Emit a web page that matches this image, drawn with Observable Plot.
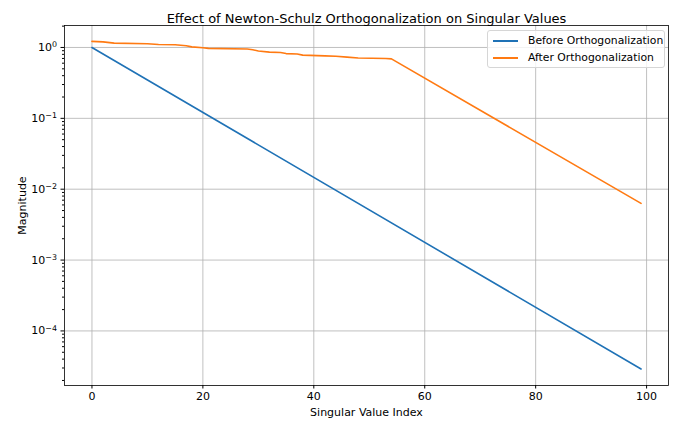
<!DOCTYPE html>
<html>
<head>
<meta charset="utf-8">
<script src="https://cdn.jsdelivr.net/npm/d3@7"></script>
<script src="https://cdn.jsdelivr.net/npm/@observablehq/plot@0.6"></script>
<style>
  html, body { margin: 0; padding: 0; background: white; }
  #wrap { position: relative; width: 700px; height: 430px; font-family: "DejaVu Sans", sans-serif; }
  #legend { position: absolute; left: 487px; top: 30px; width: 178px; height: 38px;
    border: 1px solid #d6d6d6; border-radius: 3px; background: rgba(255,255,255,0.8);
    font-size: 10.8px; color: #000; box-sizing: border-box; }
  .row { position: absolute; left: 5px; display: flex; align-items: center; height: 15px; }
  .sw { width: 25px; height: 2px; margin-right: 10px; }
</style>
</head>
<body>
<div id="wrap"></div>
<script>
const title = "Effect of Newton-Schulz Orthogonalization on Singular Values";
const xLabel = "Singular Value Index";
const yLabel = "Magnitude";
const seriesNames = ["Before Orthogonalization", "After Orthogonalization"];
const seriesColors = ["#1f72b6", "#ff7a12"];

// Before: straight line on log scale from index 0 to 99
const beforeIndex = [0, 99];
const beforeValue = [1.0, 2.9e-5];

// After: slowly stepping plateau, then straight decay on log scale
const afterIndex = [0, 2, 4, 10, 12, 15, 17, 18, 20, 21, 28, 29, 30, 32, 34, 35, 37, 38, 42, 44, 46, 48, 53, 54, 99];
const afterValue = [1.22, 1.20, 1.15, 1.13, 1.10, 1.09, 1.06, 1.02, 0.99, 0.97, 0.95, 0.93, 0.89, 0.86, 0.85, 0.82, 0.81, 0.78, 0.76, 0.75, 0.73, 0.71, 0.70, 0.69, 0.0063];

const xTicks = [0, 20, 40, 60, 80, 100];
const yTicks = [1e-4, 1e-3, 1e-2, 1e-1, 1];
const yTickExponents = ["\u22124", "\u22123", "\u22122", "\u22121", "0"];
const decades = [1e-5, 1e-4, 1e-3, 1e-2, 1e-1, 1];
const minorMultipliers = [2, 3, 4, 5, 6, 7, 8, 9];

const before = beforeIndex.map((x, i) => ({x, y: beforeValue[i]}));
const after = afterIndex.map((x, i) => ({x, y: afterValue[i]}));
const yMin = Math.pow(10, -4.77), yMax = Math.pow(10, 0.31);
const minorTicks = [];
decades.forEach(d => minorMultipliers.forEach(m => { const v = d * m; if (v > yMin && v < yMax) minorTicks.push(v); }));

const FS = 11;
const chart = Plot.plot({
  width: 700, height: 430,
  marginLeft: 64, marginRight: 32, marginTop: 25, marginBottom: 45,
  style: { fontFamily: "DejaVu Sans, sans-serif", fontSize: FS + "px", background: "white", color: "black" },
  x: { domain: [-4.95, 103.95] },
  y: { type: "log", domain: [yMin, yMax] },
  marks: [
    Plot.gridX(xTicks, { stroke: "#b0b0b0", strokeOpacity: 1, strokeWidth: 0.8 }),
    Plot.gridY(yTicks, { stroke: "#b0b0b0", strokeOpacity: 1, strokeWidth: 0.8 }),
    Plot.line(before, { x: "x", y: "y", stroke: seriesColors[0], strokeWidth: 1.6 }),
    Plot.line(after, { x: "x", y: "y", stroke: seriesColors[1], strokeWidth: 1.6 }),
    Plot.axisX({ ticks: xTicks, tickSize: 3.5, tickPadding: 3, fontSize: FS,
      label: xLabel, labelAnchor: "center", labelArrow: "none", labelOffset: 30 }),
    Plot.axisY({ ticks: yTicks, tickSize: 3.5, tickPadding: 4, fontSize: FS,
      tickFormat: v => "10" + (yTickExponents[yTicks.indexOf(v)] ?? ""),
      label: yLabel, labelAnchor: "center", labelArrow: "none", labelOffset: 46 }),
    Plot.axisY({ ticks: minorTicks, tickSize: 2, tickFormat: () => "", label: null }),
    Plot.frame({ stroke: "black", strokeWidth: 0.8 }),
    Plot.text([title], { frameAnchor: "top", dy: -12, fontSize: 13, fill: "black" })
  ]
});

// render exponent as a raised, smaller tspan
d3.select(chart).selectAll('g[aria-label="y-axis tick label"] text').each(function() {
  const t = d3.select(this);
  const s = t.text();
  if (s.length > 2 && s.startsWith("10")) {
    t.text("10");
    t.append("tspan").attr("dy", "-0.45em").attr("font-size", "0.72em").text(s.slice(2));
  }
});

const wrap = document.getElementById("wrap");
wrap.appendChild(chart);
const legend = document.createElement("div");
legend.id = "legend";
seriesNames.forEach((name, i) => {
  const row = document.createElement("div");
  row.className = "row";
  row.style.top = (2 + i * 17) + "px";
  const sw = document.createElement("span");
  sw.className = "sw";
  sw.style.background = seriesColors[i];
  const label = document.createElement("span");
  label.textContent = name;
  row.appendChild(sw); row.appendChild(label);
  legend.appendChild(row);
});
wrap.appendChild(legend);
</script>
</body>
</html>
